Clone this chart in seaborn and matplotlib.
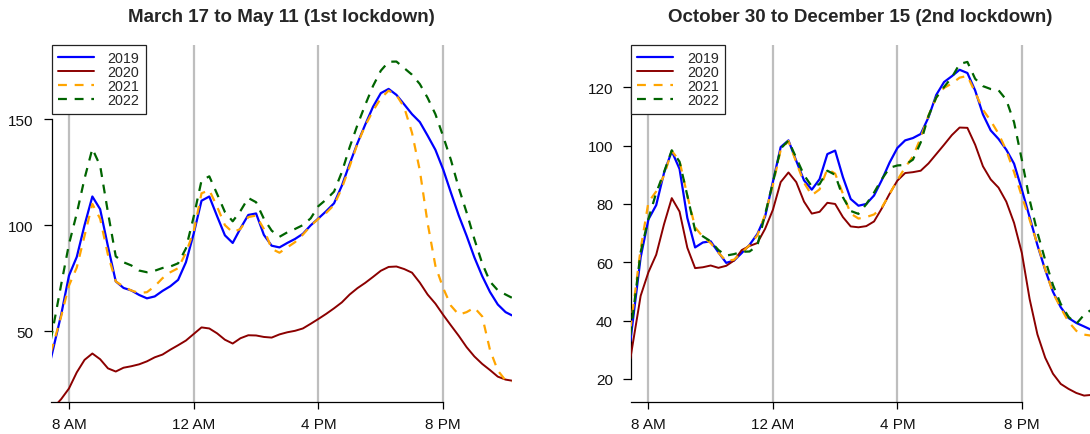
import numpy as np
import pandas as pd
import matplotlib
matplotlib.use("Agg")
import matplotlib.pyplot as plt
import seaborn as sns

# hours of the day (7:25 AM .. 10:10 PM), 15 minute steps
times = [7.42] + list(np.arange(7.75, 22.01, 0.25)) + [22.2]

# 1st lockdown: March 17 to May 11
spring_2019 = [37, 57.8, 76.2, 85, 100, 113.5, 107.5, 90, 73.5, 70.4, 69.2, 67.1, 65.5, 66.4, 69, 71.2, 74.2, 82.5, 96, 111.5,
               113.5, 104.2, 95.2, 91.6, 98.5, 104.8, 105.5, 95.4, 90.3, 89.5,
               91.6, 93.5, 95.9, 99.9, 103.2, 106.6, 110.3, 118.6, 128.9, 138.6, 147.4, 155.8, 162.2, 164.2, 161.4,
               156.9, 152.3, 148.6, 142.2, 135.5, 126.2, 115.2, 104.5, 95, 84.8, 76, 68.5, 62.6, 59, 57.5]
spring_2020 = [12.6, 18, 23, 30.6, 36.5, 39.5, 36.8, 32.5, 31, 32.8, 33.5, 34.4, 35.8, 37.7, 39, 41.3, 43.4, 45.6, 48.7, 51.8,
               51.3, 49, 46, 44.2, 46.7, 48.1, 48, 47.3, 47, 48.5,
               49.5, 50.2, 51.3, 53.5, 55.8, 58.2, 60.8, 63.6, 67.3, 70.3, 72.8, 75.6, 78.5, 80.3, 80.5,
               79.3, 77.6, 72.9, 67.3, 63, 57.7, 52.7, 47.8, 42.5, 38.1, 34.6, 31.7, 28.6, 27.2, 26.7]
spring_2021 = [40, 57, 71.5, 80, 95, 110, 103, 86, 73.5, 71, 69.2, 68, 68.4, 71.2, 75, 77.8, 79.7, 87, 97, 115,
               116.5, 108.7, 100, 96.6, 98.2, 103.8, 104.5, 98.2, 88.8, 87,
               89.5, 92, 95.5, 99.7, 103, 105.8, 109.5, 117.4, 127.7, 138.3, 146.9, 153.9, 159.8, 163.4, 161.3,
               155.5, 143.5, 125.8, 101, 80.8, 70.3, 62, 57.8, 59, 61.1, 57, 41.2, 31.5, 26.8, 26.3]
spring_2022 = [46, 72, 91, 105.5, 122, 136, 128, 106, 85.3, 82.5, 81, 78.6, 77.8, 78.5, 79.8, 80.5, 82, 89, 104, 121,
               123, 114.7, 106.2, 101.8, 106.7, 112.8, 110.8, 103, 97.4, 94.5,
               96.6, 98.2, 100, 103.2, 109, 112.1, 115.8, 125, 136.7, 147.2, 156.7, 165.6, 172.8, 177, 177.1,
               174, 170.9, 166.5, 160, 152.3, 141.8, 130.6, 117.5, 106, 93.4, 82, 73.4, 69.3, 67.3, 65.8]

# 2nd lockdown: October 30 to December 15
autumn_2019 = [33, 61.7, 74.7, 79.6, 90.6, 98.1, 92, 75.2, 65.1, 66.8, 67.2, 63.4, 59.8, 60.6, 63.2, 66, 69.7, 75.7, 87.6, 99.5,
               101.8, 94.8, 88.1, 84.9, 88.5, 97.1, 98.3, 89.2, 81.7, 79.4,
               80, 82.9, 88.2, 94.2, 99.2, 101.8, 102.6, 104, 109.7, 117.4, 121.8, 123.8, 126, 124.9, 118.9,
               110.7, 105.2, 102.3, 98.6, 93.8, 84.9, 75.5, 65.9, 57.4, 49.9, 44.6, 40.9, 39.2, 38, 37]
autumn_2020 = [27, 48.5, 56.6, 62.6, 73, 82, 77.4, 65, 58, 58.3, 58.9, 58.1, 58.8, 60.6, 64.2, 65.6, 66.6, 71.5, 78, 87.5,
               90.8, 87.5, 80.8, 76.7, 77.3, 80.4, 80, 75.5, 72.3, 72,
               72.4, 74, 78.5, 83.5, 88, 90.6, 90.9, 91.4, 93.9, 97.1, 100.3, 103.6, 106.2, 106.1, 100.3,
               92.9, 88.4, 85.6, 80.8, 73.5, 63.2, 47.4, 35.3, 27.3, 21.8, 18.3, 16.6, 15.2, 14.3, 14.5]
autumn_2021 = [37, 64.6, 80.6, 84.3, 89.7, 98.2, 94.7, 82.9, 72, 68.7, 66.6, 63.3, 60.4, 60.9, 63.3, 65.9, 69.2, 76.3, 86.6, 98.5,
               101.6, 94.3, 87.3, 83, 85, 92, 90.4, 83.5, 76.7, 75,
               75.5, 76.4, 78.8, 83.4, 88.2, 92.5, 96.3, 102.7, 110.3, 116.5, 119.8, 121.3, 123.3, 123.9, 118.3,
               112.3, 108.5, 104.1, 98.4, 90.9, 82.6, 74.6, 66.2, 57.6, 49.5, 44.4, 39.6, 36.5, 35.2, 34.9]
autumn_2022 = [35, 63.5, 74.9, 83.8, 90.9, 98.4, 94.5, 82.9, 71, 68.9, 67.2, 64.2, 62.3, 62.8, 63.6, 63.7, 65.7, 76.5, 87.3, 99,
               101.7, 95.8, 89.9, 86, 86.8, 91.4, 90, 82.3, 77.6, 76.6,
               79.9, 83.9, 88.5, 92.4, 93.2, 93.4, 95.2, 101.1, 110.2, 116.5, 120.1, 123.4, 128, 128.7, 122.9,
               120.4, 119.4, 119, 115.7, 108, 95.1, 81.4, 70.2, 60.8, 52.2, 45.7, 41.3, 38.9, 42, 43.5]

years = ['2019', '2020', '2021', '2022']
hour_ticks = [8, 12, 16, 20]
hour_labels = ['8 AM', '12 AM', '4 PM', '8 PM']

colors = {'2019': '#0000FF', '2020': '#8B0000', '2021': '#FFA500', '2022': '#006400'}
styles = {'2019': '-', '2020': '-', '2021': (0, (4, 3.5)), '2022': (0, (4, 3.5))}
widths = {'2019': 1.6, '2020': 1.4, '2021': 1.6, '2022': 1.6}

sns.set_style('ticks')
plt.rcParams['font.family'] = ['Liberation Sans', 'DejaVu Sans']

fig = plt.figure(figsize=(10.9, 4.35), dpi=100)
ax1 = fig.add_axes([51.5 / 1090, 31.7 / 435, 460 / 1090, 357.3 / 435])
ax2 = fig.add_axes([631 / 1090, 31.7 / 435, 459 / 1090, 357.3 / 435])


def draw_panel(ax, series, title, yticks, ylim):
    for h in hour_ticks:
        ax.axvline(h, color='#BEBEBE', lw=1.6, zorder=1)
    for yr in years:
        sns.lineplot(x=times, y=series[yr], ax=ax, color=colors[yr], lw=widths[yr],
                     linestyle=styles[yr], label=yr, zorder=3, sort=False)
    ax.set_xlim(7.44, 22.19)
    ax.set_ylim(*ylim)
    ax.set_xticks(hour_ticks)
    ax.set_xticklabels(hour_labels)
    ax.set_yticks(yticks)
    ax.set_xlabel('')
    ax.set_ylabel('')
    sns.despine(ax=ax)
    for s in ['left', 'bottom']:
        ax.spines[s].set_color('black')
        ax.spines[s].set_linewidth(0.9)
    ax.spines['left'].set_bounds(yticks[0], yticks[-1])
    ax.spines['bottom'].set_bounds(7.44, 20)
    ax.tick_params(axis='both', direction='out', width=0.9, color='black',
                   labelsize=11, labelcolor='#111111')
    ax.tick_params(axis='x', length=5, pad=5.5)
    ax.tick_params(axis='y', length=6, pad=7)
    ax.set_title(title, fontsize=13.5, fontweight='bold', pad=17)
    leg = ax.legend(loc='upper left', bbox_to_anchor=(0, 1), borderaxespad=0, fontsize=10.3,
                    frameon=True, fancybox=False, framealpha=1, edgecolor='#222222',
                    handlelength=2.5, handletextpad=0.95, labelspacing=0.0, borderpad=0.45)
    leg.get_frame().set_linewidth(0.9)


draw_panel(ax1, {'2019': spring_2019, '2020': spring_2020, '2021': spring_2021, '2022': spring_2022},
           'March 17 to May 11 (1st lockdown)', [50, 100, 150], (16.5, 184.9))
draw_panel(ax2, {'2019': autumn_2019, '2020': autumn_2020, '2021': autumn_2021, '2022': autumn_2022},
           'October 30 to December 15 (2nd lockdown)', [20, 40, 60, 80, 100, 120], (12.0, 134.5))

fig.savefig('out.png', dpi=100)
